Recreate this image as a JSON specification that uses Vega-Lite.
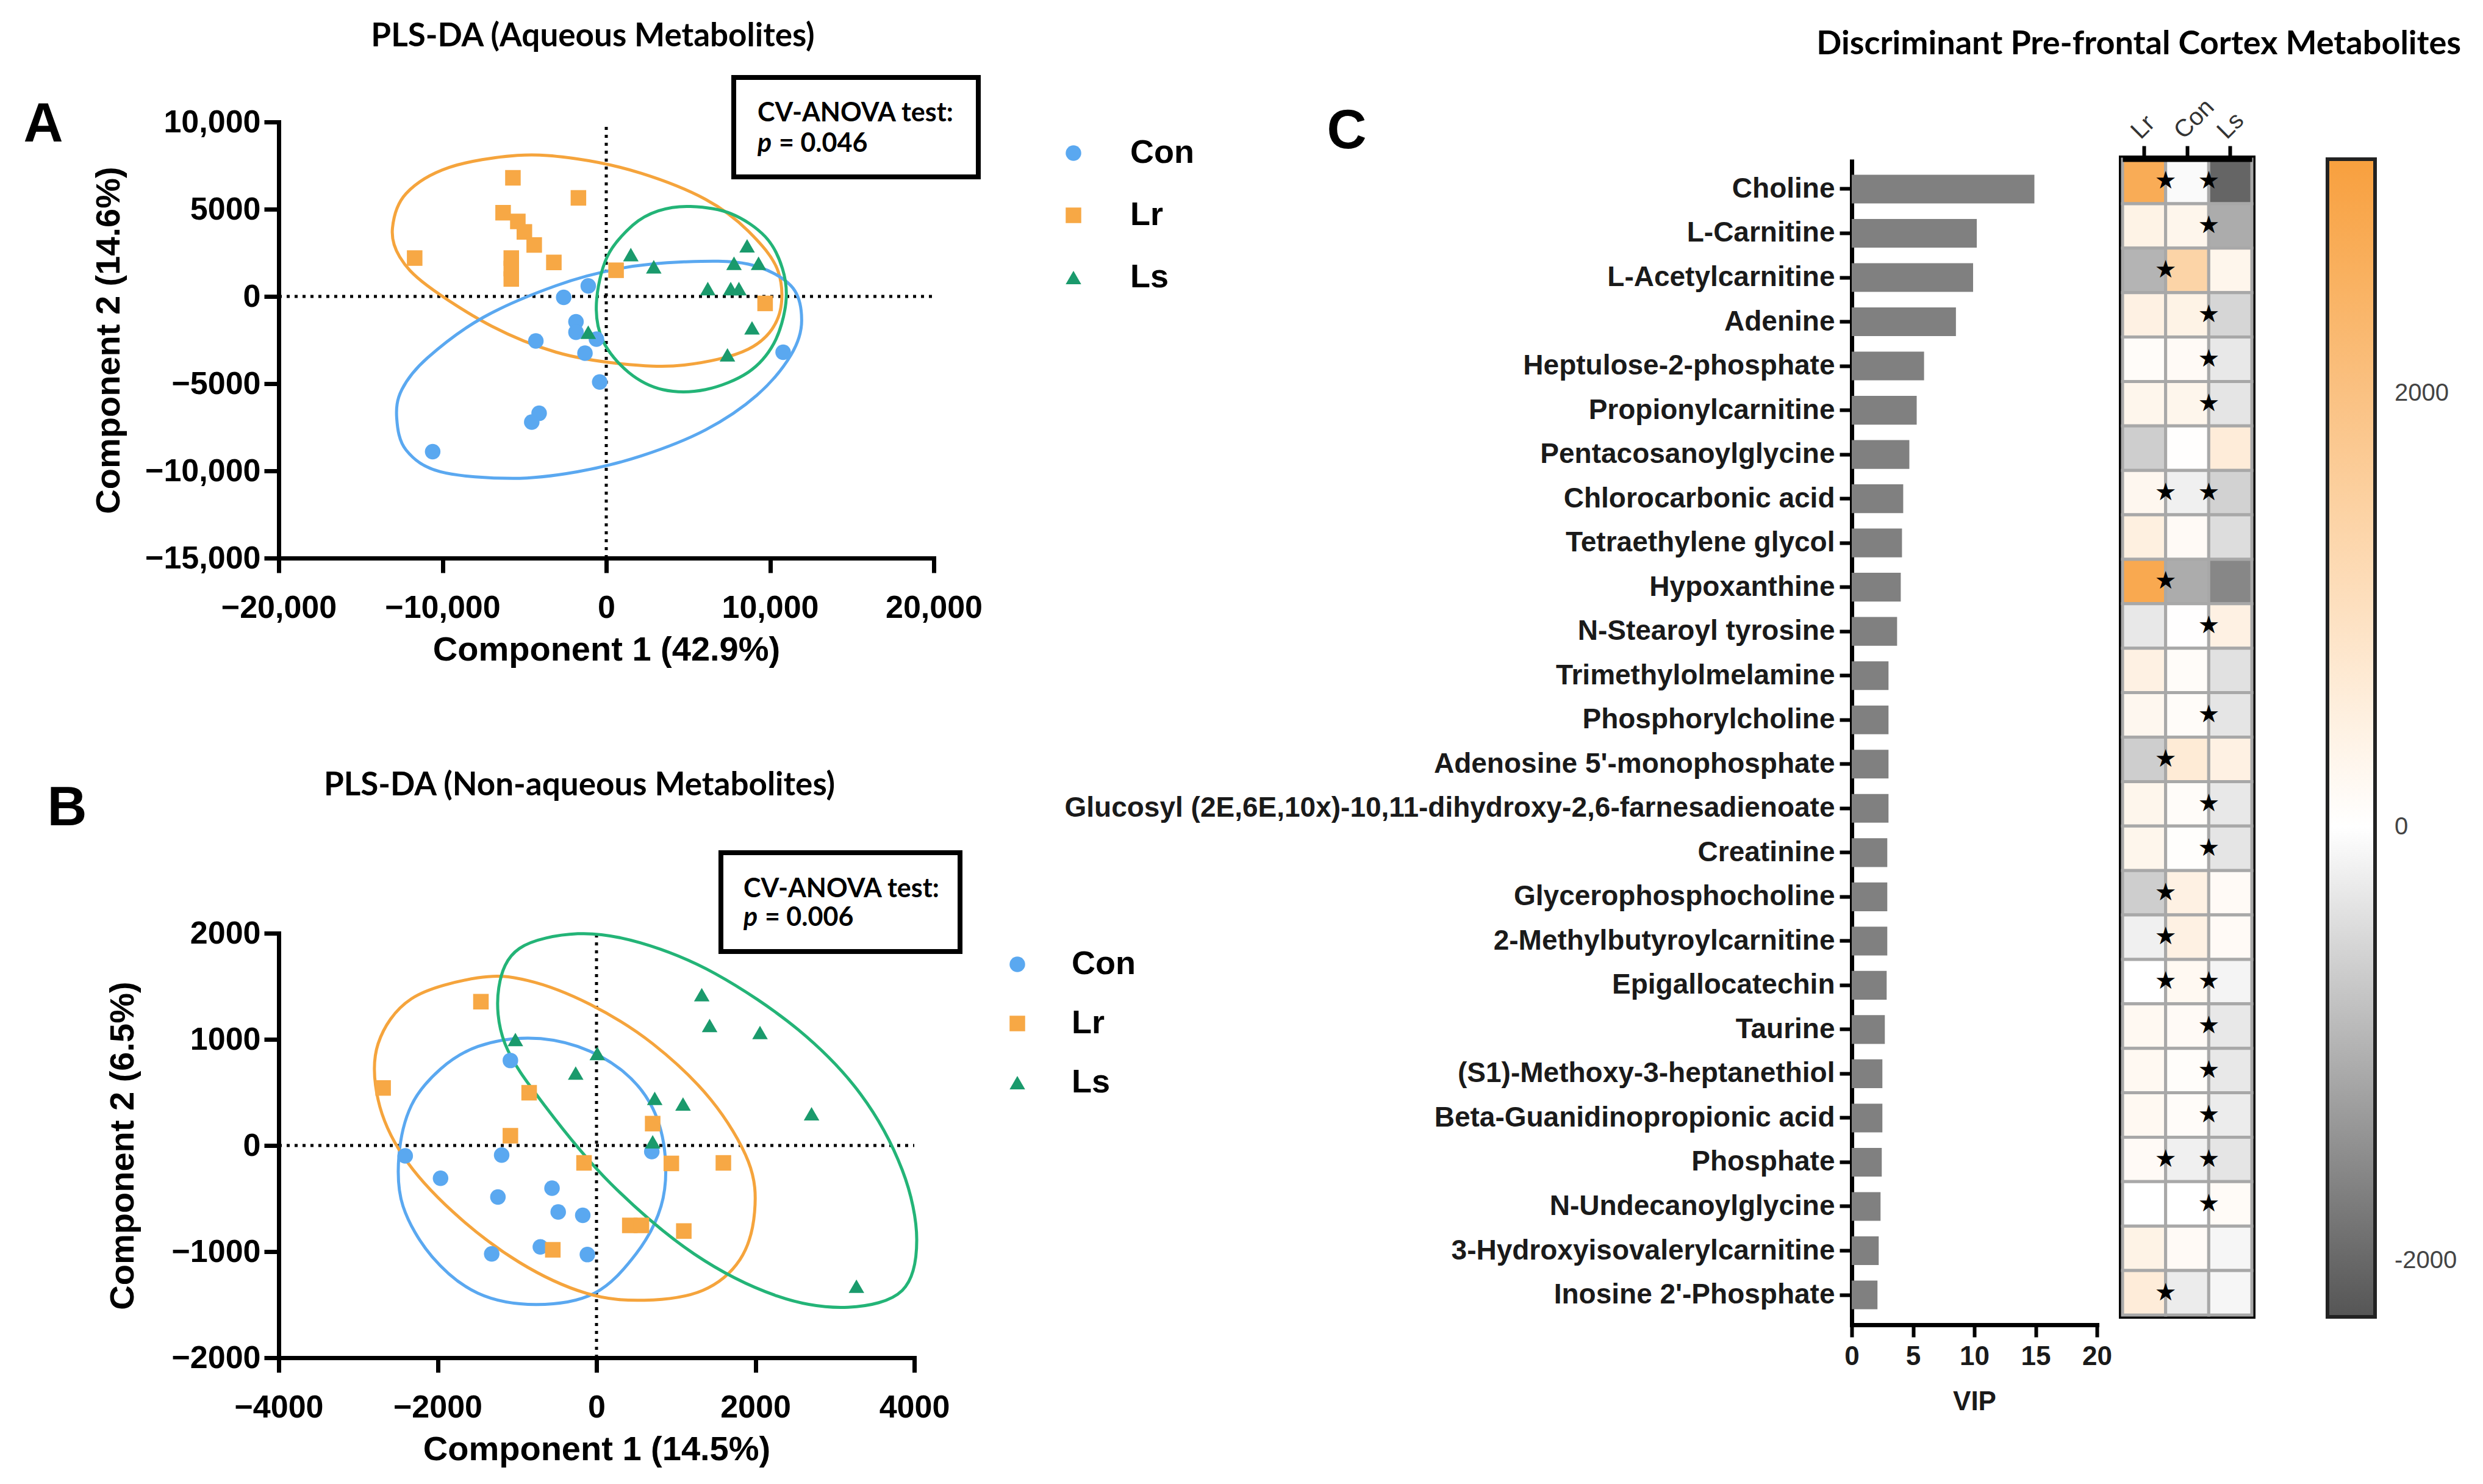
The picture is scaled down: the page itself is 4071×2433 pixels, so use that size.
{
  "$schema": "https://vega.github.io/schema/vega-lite/v6.json",
  "background": "white",
  "padding": {"left": 38, "top": 34, "right": 5, "bottom": 5},
  "config": {
    "view": {"stroke": null},
    "font": "Liberation Sans",
    "axis": {"grid": false, "domainColor": "black", "tickColor": "black", "labelColor": "black", "titleColor": "black", "labelFont": "Liberation Sans", "titleFont": "Liberation Sans", "labelLimit": 2000}
  },
  "datasets": {
    "one": [{"k": 1}],
    "ptsA": [
      {"g": "Con", "x": -1100, "y": 600}, {"g": "Con", "x": -2600, "y": -50}, {"g": "Con", "x": -1850, "y": -1450}, {"g": "Con", "x": -1850, "y": -2050},
      {"g": "Con", "x": -600, "y": -2450}, {"g": "Con", "x": -4300, "y": -2550}, {"g": "Con", "x": -1300, "y": -3250}, {"g": "Con", "x": -400, "y": -4900},
      {"g": "Con", "x": -4100, "y": -6700}, {"g": "Con", "x": -4550, "y": -7200}, {"g": "Con", "x": -10600, "y": -8900}, {"g": "Con", "x": 10800, "y": -3200},
      {"g": "Lr", "x": -11700, "y": 2200}, {"g": "Lr", "x": -6300, "y": 4800}, {"g": "Lr", "x": -5700, "y": 6800}, {"g": "Lr", "x": -5400, "y": 4300},
      {"g": "Lr", "x": -5000, "y": 3700}, {"g": "Lr", "x": -4400, "y": 2950}, {"g": "Lr", "x": -3200, "y": 1950}, {"g": "Lr", "x": -1700, "y": 5650},
      {"g": "Lr", "x": -5800, "y": 2200}, {"g": "Lr", "x": -5800, "y": 1600}, {"g": "Lr", "x": -5800, "y": 1000}, {"g": "Lr", "x": 600, "y": 1500},
      {"g": "Lr", "x": 9700, "y": -400},
      {"g": "Ls", "x": 1500, "y": 2400}, {"g": "Ls", "x": 2900, "y": 1700}, {"g": "Ls", "x": 8600, "y": 2900}, {"g": "Ls", "x": 7800, "y": 1900},
      {"g": "Ls", "x": 9300, "y": 1900}, {"g": "Ls", "x": 6200, "y": 450}, {"g": "Ls", "x": 7600, "y": 450}, {"g": "Ls", "x": 8100, "y": 450},
      {"g": "Ls", "x": 8900, "y": -1800}, {"g": "Ls", "x": 7400, "y": -3350}, {"g": "Ls", "x": -1100, "y": -2050}
    ],
    "ellA": [
      {"g": "Lr", "i": 0, "x": -13055, "y": 3917}, {"g": "Lr", "i": 1, "x": -12219, "y": 5901}, {"g": "Lr", "i": 2, "x": -9608, "y": 7388},
      {"g": "Lr", "i": 3, "x": -5431, "y": 8083}, {"g": "Lr", "i": 4, "x": -1775, "y": 7884}, {"g": "Lr", "i": 5, "x": 2141, "y": 7058},
      {"g": "Lr", "i": 6, "x": 6057, "y": 5570}, {"g": "Lr", "i": 7, "x": 8668, "y": 3752}, {"g": "Lr", "i": 8, "x": 10496, "y": 1438},
      {"g": "Lr", "i": 9, "x": 10496, "y": -1207}, {"g": "Lr", "i": 10, "x": 8668, "y": -3025}, {"g": "Lr", "i": 11, "x": 4752, "y": -3934},
      {"g": "Lr", "i": 12, "x": 836, "y": -3851}, {"g": "Lr", "i": 13, "x": -3081, "y": -3190}, {"g": "Lr", "i": 14, "x": -6997, "y": -1702},
      {"g": "Lr", "i": 15, "x": -10914, "y": 612}, {"g": "Lr", "i": 16, "x": -12611, "y": 2264},
      {"g": "Con", "i": 0, "x": -12794, "y": -6992}, {"g": "Con", "i": 1, "x": -12219, "y": -8810}, {"g": "Con", "i": 2, "x": -10131, "y": -10050},
      {"g": "Con", "i": 3, "x": -5692, "y": -10430}, {"g": "Con", "i": 4, "x": -1775, "y": -10050}, {"g": "Con", "i": 5, "x": 2141, "y": -9140},
      {"g": "Con", "i": 6, "x": 6057, "y": -7653}, {"g": "Con", "i": 7, "x": 9191, "y": -5669}, {"g": "Con", "i": 8, "x": 11279, "y": -3355},
      {"g": "Con", "i": 9, "x": 11932, "y": -1372}, {"g": "Con", "i": 10, "x": 11279, "y": 612}, {"g": "Con", "i": 11, "x": 8668, "y": 1851},
      {"g": "Con", "i": 12, "x": 4752, "y": 1983}, {"g": "Con", "i": 13, "x": 836, "y": 1603}, {"g": "Con", "i": 14, "x": -3081, "y": 612},
      {"g": "Con", "i": 15, "x": -7520, "y": -1207}, {"g": "Con", "i": 16, "x": -10914, "y": -3521}, {"g": "Con", "i": 17, "x": -12480, "y": -5339},
      {"g": "Ls", "i": 0, "x": 5144, "y": 5157}, {"g": "Ls", "i": 1, "x": 7624, "y": 4744}, {"g": "Ls", "i": 2, "x": 9713, "y": 3421},
      {"g": "Ls", "i": 3, "x": 10757, "y": 1603}, {"g": "Ls", "i": 4, "x": 10966, "y": -380}, {"g": "Ls", "i": 5, "x": 10235, "y": -2694},
      {"g": "Ls", "i": 6, "x": 8668, "y": -4347}, {"g": "Ls", "i": 7, "x": 6057, "y": -5339}, {"g": "Ls", "i": 8, "x": 3446, "y": -5339},
      {"g": "Ls", "i": 9, "x": 1358, "y": -4347}, {"g": "Ls", "i": 10, "x": -209, "y": -2529}, {"g": "Ls", "i": 11, "x": -601, "y": -380},
      {"g": "Ls", "i": 12, "x": 52, "y": 2264}, {"g": "Ls", "i": 13, "x": 1619, "y": 4083}, {"g": "Ls", "i": 14, "x": 3185, "y": 4909}
    ],
    "ptsB": [
      {"g": "Con", "x": -1084, "y": 801}, {"g": "Con", "x": -2408, "y": -98}, {"g": "Con", "x": -1194, "y": -90}, {"g": "Con", "x": 696, "y": -58},
      {"g": "Con", "x": -1963, "y": -309}, {"g": "Con", "x": -560, "y": -402}, {"g": "Con", "x": -1241, "y": -486}, {"g": "Con", "x": -482, "y": -626},
      {"g": "Con", "x": -173, "y": -658}, {"g": "Con", "x": -1319, "y": -1022}, {"g": "Con", "x": -707, "y": -956}, {"g": "Con", "x": -115, "y": -1028},
      {"g": "Lr", "x": -1455, "y": 1355}, {"g": "Lr", "x": -2686, "y": 542}, {"g": "Lr", "x": -848, "y": 497}, {"g": "Lr", "x": -1084, "y": 92},
      {"g": "Lr", "x": 707, "y": 206}, {"g": "Lr", "x": -157, "y": -164}, {"g": "Lr", "x": 942, "y": -169}, {"g": "Lr", "x": 1597, "y": -164},
      {"g": "Lr", "x": 419, "y": -753}, {"g": "Lr", "x": 565, "y": -753}, {"g": "Lr", "x": 1099, "y": -806}, {"g": "Lr", "x": -550, "y": -983},
      {"g": "Ls", "x": 1325, "y": 1421}, {"g": "Ls", "x": 1424, "y": 1131}, {"g": "Ls", "x": 2058, "y": 1065}, {"g": "Ls", "x": -1021, "y": 999},
      {"g": "Ls", "x": 10, "y": 867}, {"g": "Ls", "x": -262, "y": 682}, {"g": "Ls", "x": 733, "y": 444}, {"g": "Ls", "x": 1089, "y": 391},
      {"g": "Ls", "x": 2707, "y": 299}, {"g": "Ls", "x": 707, "y": 34}, {"g": "Ls", "x": 3272, "y": -1326}
    ],
    "ellB": [
      {"g": "Con", "i": 0, "x": -864, "y": 1012}, {"g": "Con", "i": 1, "x": -236, "y": 933}, {"g": "Con", "i": 2, "x": 340, "y": 695},
      {"g": "Con", "i": 3, "x": 707, "y": 351}, {"g": "Con", "i": 4, "x": 864, "y": -98}, {"g": "Con", "i": 5, "x": 812, "y": -573},
      {"g": "Con", "i": 6, "x": 497, "y": -1022}, {"g": "Con", "i": 7, "x": -26, "y": -1392}, {"g": "Con", "i": 8, "x": -759, "y": -1498},
      {"g": "Con", "i": 9, "x": -1492, "y": -1392}, {"g": "Con", "i": 10, "x": -2068, "y": -1049}, {"g": "Con", "i": 11, "x": -2435, "y": -573},
      {"g": "Con", "i": 12, "x": -2487, "y": -98}, {"g": "Con", "i": 13, "x": -2330, "y": 378}, {"g": "Con", "i": 14, "x": -1963, "y": 721},
      {"g": "Con", "i": 15, "x": -1492, "y": 933},
      {"g": "Lr", "i": 0, "x": -1492, "y": 1580}, {"g": "Lr", "i": 1, "x": -864, "y": 1554}, {"g": "Lr", "i": 2, "x": -79, "y": 1329},
      {"g": "Lr", "i": 3, "x": 707, "y": 959}, {"g": "Lr", "i": 4, "x": 1440, "y": 431}, {"g": "Lr", "i": 5, "x": 1911, "y": -151},
      {"g": "Lr", "i": 6, "x": 1990, "y": -626}, {"g": "Lr", "i": 7, "x": 1806, "y": -1075}, {"g": "Lr", "i": 8, "x": 1335, "y": -1366},
      {"g": "Lr", "i": 9, "x": 602, "y": -1458}, {"g": "Lr", "i": 10, "x": -131, "y": -1392}, {"g": "Lr", "i": 11, "x": -969, "y": -1102},
      {"g": "Lr", "i": 12, "x": -1806, "y": -626}, {"g": "Lr", "i": 13, "x": -2435, "y": -98}, {"g": "Lr", "i": 14, "x": -2749, "y": 431},
      {"g": "Lr", "i": 15, "x": -2749, "y": 959}, {"g": "Lr", "i": 16, "x": -2330, "y": 1382},
      {"g": "Ls", "i": 0, "x": -236, "y": 1995}, {"g": "Ls", "i": 1, "x": 550, "y": 1910}, {"g": "Ls", "i": 2, "x": 1492, "y": 1620},
      {"g": "Ls", "i": 3, "x": 2539, "y": 1091}, {"g": "Ls", "i": 4, "x": 3325, "y": 483}, {"g": "Ls", "i": 5, "x": 3848, "y": -230},
      {"g": "Ls", "i": 6, "x": 4031, "y": -890}, {"g": "Ls", "i": 7, "x": 3848, "y": -1366}, {"g": "Ls", "i": 8, "x": 3168, "y": -1524},
      {"g": "Ls", "i": 9, "x": 2277, "y": -1419}, {"g": "Ls", "i": 10, "x": 1230, "y": -1022}, {"g": "Ls", "i": 11, "x": 183, "y": -362},
      {"g": "Ls", "i": 12, "x": -654, "y": 378}, {"g": "Ls", "i": 13, "x": -1152, "y": 959}, {"g": "Ls", "i": 14, "x": -1230, "y": 1487},
      {"g": "Ls", "i": 15, "x": -969, "y": 1857}
    ],
    "bars": [
      {"m": "Choline", "vip": 14.9}, {"m": "L-Carnitine", "vip": 10.2}, {"m": "L-Acetylcarnitine", "vip": 9.9}, {"m": "Adenine", "vip": 8.5},
      {"m": "Heptulose-2-phosphate", "vip": 5.9}, {"m": "Propionylcarnitine", "vip": 5.3}, {"m": "Pentacosanoylglycine", "vip": 4.7},
      {"m": "Chlorocarbonic acid", "vip": 4.2}, {"m": "Tetraethylene glycol", "vip": 4.1}, {"m": "Hypoxanthine", "vip": 4.0},
      {"m": "N-Stearoyl tyrosine", "vip": 3.7}, {"m": "Trimethylolmelamine", "vip": 3.0}, {"m": "Phosphorylcholine", "vip": 3.0},
      {"m": "Adenosine 5'-monophosphate", "vip": 3.0}, {"m": "Glucosyl (2E,6E,10x)-10,11-dihydroxy-2,6-farnesadienoate", "vip": 3.0},
      {"m": "Creatinine", "vip": 2.9}, {"m": "Glycerophosphocholine", "vip": 2.9}, {"m": "2-Methylbutyroylcarnitine", "vip": 2.9},
      {"m": "Epigallocatechin", "vip": 2.85}, {"m": "Taurine", "vip": 2.7}, {"m": "(S1)-Methoxy-3-heptanethiol", "vip": 2.5},
      {"m": "Beta-Guanidinopropionic acid", "vip": 2.5}, {"m": "Phosphate", "vip": 2.45}, {"m": "N-Undecanoylglycine", "vip": 2.35},
      {"m": "3-Hydroxyisovalerylcarnitine", "vip": 2.2}, {"m": "Inosine 2'-Phosphate", "vip": 2.1}
    ],
    "heat": [
      {"m": "Choline", "col": "Lr", "v": 2700, "star": true}, {"m": "Choline", "col": "Con", "v": -60, "star": true}, {"m": "Choline", "col": "Ls", "v": -2050, "star": false},
      {"m": "L-Carnitine", "col": "Lr", "v": 400, "star": false}, {"m": "L-Carnitine", "col": "Con", "v": 300, "star": true}, {"m": "L-Carnitine", "col": "Ls", "v": -1100, "star": false},
      {"m": "L-Acetylcarnitine", "col": "Lr", "v": -1000, "star": true}, {"m": "L-Acetylcarnitine", "col": "Con", "v": 1400, "star": false}, {"m": "L-Acetylcarnitine", "col": "Ls", "v": 300, "star": false},
      {"m": "Adenine", "col": "Lr", "v": 450, "star": false}, {"m": "Adenine", "col": "Con", "v": 400, "star": true}, {"m": "Adenine", "col": "Ls", "v": -550, "star": false},
      {"m": "Heptulose-2-phosphate", "col": "Lr", "v": 100, "star": false}, {"m": "Heptulose-2-phosphate", "col": "Con", "v": 150, "star": true}, {"m": "Heptulose-2-phosphate", "col": "Ls", "v": -300, "star": false},
      {"m": "Propionylcarnitine", "col": "Lr", "v": 300, "star": false}, {"m": "Propionylcarnitine", "col": "Con", "v": 300, "star": true}, {"m": "Propionylcarnitine", "col": "Ls", "v": -350, "star": false},
      {"m": "Pentacosanoylglycine", "col": "Lr", "v": -650, "star": false}, {"m": "Pentacosanoylglycine", "col": "Con", "v": 30, "star": false}, {"m": "Pentacosanoylglycine", "col": "Ls", "v": 600, "star": false},
      {"m": "Chlorocarbonic acid", "col": "Lr", "v": 250, "star": true}, {"m": "Chlorocarbonic acid", "col": "Con", "v": -200, "star": true}, {"m": "Chlorocarbonic acid", "col": "Ls", "v": -600, "star": false},
      {"m": "Tetraethylene glycol", "col": "Lr", "v": 500, "star": false}, {"m": "Tetraethylene glycol", "col": "Con", "v": 150, "star": false}, {"m": "Tetraethylene glycol", "col": "Ls", "v": -450, "star": false},
      {"m": "Hypoxanthine", "col": "Lr", "v": 2800, "star": true}, {"m": "Hypoxanthine", "col": "Con", "v": -1100, "star": false}, {"m": "Hypoxanthine", "col": "Ls", "v": -1600, "star": false},
      {"m": "N-Stearoyl tyrosine", "col": "Lr", "v": -300, "star": false}, {"m": "N-Stearoyl tyrosine", "col": "Con", "v": 20, "star": true}, {"m": "N-Stearoyl tyrosine", "col": "Ls", "v": 450, "star": false},
      {"m": "Trimethylolmelamine", "col": "Lr", "v": 450, "star": false}, {"m": "Trimethylolmelamine", "col": "Con", "v": 100, "star": false}, {"m": "Trimethylolmelamine", "col": "Ls", "v": -400, "star": false},
      {"m": "Phosphorylcholine", "col": "Lr", "v": 250, "star": false}, {"m": "Phosphorylcholine", "col": "Con", "v": 100, "star": true}, {"m": "Phosphorylcholine", "col": "Ls", "v": -350, "star": false},
      {"m": "Adenosine 5'-monophosphate", "col": "Lr", "v": -650, "star": true}, {"m": "Adenosine 5'-monophosphate", "col": "Con", "v": 650, "star": false}, {"m": "Adenosine 5'-monophosphate", "col": "Ls", "v": 450, "star": false},
      {"m": "Glucosyl (2E,6E,10x)-10,11-dihydroxy-2,6-farnesadienoate", "col": "Lr", "v": 300, "star": false}, {"m": "Glucosyl (2E,6E,10x)-10,11-dihydroxy-2,6-farnesadienoate", "col": "Con", "v": 100, "star": true}, {"m": "Glucosyl (2E,6E,10x)-10,11-dihydroxy-2,6-farnesadienoate", "col": "Ls", "v": -300, "star": false},
      {"m": "Creatinine", "col": "Lr", "v": 300, "star": false}, {"m": "Creatinine", "col": "Con", "v": 40, "star": true}, {"m": "Creatinine", "col": "Ls", "v": -350, "star": false},
      {"m": "Glycerophosphocholine", "col": "Lr", "v": -650, "star": true}, {"m": "Glycerophosphocholine", "col": "Con", "v": 450, "star": false}, {"m": "Glycerophosphocholine", "col": "Ls", "v": 150, "star": false},
      {"m": "2-Methylbutyroylcarnitine", "col": "Lr", "v": -200, "star": true}, {"m": "2-Methylbutyroylcarnitine", "col": "Con", "v": 450, "star": false}, {"m": "2-Methylbutyroylcarnitine", "col": "Ls", "v": 150, "star": false},
      {"m": "Epigallocatechin", "col": "Lr", "v": 0, "star": true}, {"m": "Epigallocatechin", "col": "Con", "v": 200, "star": true}, {"m": "Epigallocatechin", "col": "Ls", "v": -150, "star": false},
      {"m": "Taurine", "col": "Lr", "v": 200, "star": false}, {"m": "Taurine", "col": "Con", "v": 150, "star": true}, {"m": "Taurine", "col": "Ls", "v": -300, "star": false},
      {"m": "(S1)-Methoxy-3-heptanethiol", "col": "Lr", "v": 200, "star": false}, {"m": "(S1)-Methoxy-3-heptanethiol", "col": "Con", "v": 80, "star": true}, {"m": "(S1)-Methoxy-3-heptanethiol", "col": "Ls", "v": -300, "star": false},
      {"m": "Beta-Guanidinopropionic acid", "col": "Lr", "v": 200, "star": false}, {"m": "Beta-Guanidinopropionic acid", "col": "Con", "v": 100, "star": true}, {"m": "Beta-Guanidinopropionic acid", "col": "Ls", "v": -250, "star": false},
      {"m": "Phosphate", "col": "Lr", "v": 150, "star": true}, {"m": "Phosphate", "col": "Con", "v": -200, "star": true}, {"m": "Phosphate", "col": "Ls", "v": -350, "star": false},
      {"m": "N-Undecanoylglycine", "col": "Lr", "v": 0, "star": false}, {"m": "N-Undecanoylglycine", "col": "Con", "v": 0, "star": true}, {"m": "N-Undecanoylglycine", "col": "Ls", "v": 120, "star": false},
      {"m": "3-Hydroxyisovalerylcarnitine", "col": "Lr", "v": 400, "star": false}, {"m": "3-Hydroxyisovalerylcarnitine", "col": "Con", "v": 150, "star": false}, {"m": "3-Hydroxyisovalerylcarnitine", "col": "Ls", "v": -120, "star": false},
      {"m": "Inosine 2'-Phosphate", "col": "Lr", "v": 600, "star": true}, {"m": "Inosine 2'-Phosphate", "col": "Con", "v": -250, "star": false}, {"m": "Inosine 2'-Phosphate", "col": "Ls", "v": -120, "star": false}
    ]
  },
  "columns": 2,
  "align": "none",
  "spacing": -213,
  "resolve": {"scale": {"color": "independent", "shape": "independent", "stroke": "independent", "fill": "independent"}, "legend": {"color": "independent", "shape": "independent", "fill": "independent"}},
  "concat": [
    {
      "columns": 1,
      "align": "none",
      "spacing": 169,
      "resolve": {"scale": {"color": "independent", "shape": "independent", "stroke": "independent"}, "legend": {"color": "independent", "shape": "independent"}},
      "concat": [
        {
          "width": 1074, "height": 715,
          "title": {"text": "PLS-DA (Aqueous Metabolites)", "font": "Lato", "fontSize": 53, "fontWeight": "bold", "color": "black", "anchor": "middle", "frame": "group", "dx": -22, "offset": 36},
          "layer": [
            {"data": {"name": "one"}, "mark": {"type": "rule", "strokeDash": [5, 8], "strokeWidth": 5, "color": "black"}, "encoding": {"x": {"datum": 0, "type": "quantitative", "scale": {"domain": [-20000, 20000], "nice": false, "zero": false}}, "y": {"datum": -15000, "type": "quantitative", "scale": {"domain": [-15000, 10000], "nice": false, "zero": false}}, "y2": {"datum": 10000}}},
            {"data": {"name": "one"}, "mark": {"type": "rule", "strokeDash": [5, 8], "strokeWidth": 5, "color": "black"}, "encoding": {"y": {"datum": 0, "type": "quantitative"}, "x": {"datum": -20000, "type": "quantitative"}, "x2": {"datum": 20000}}},
            {"data": {"name": "ellA"}, "mark": {"type": "line", "interpolate": "cardinal-closed", "strokeWidth": 5},
              "encoding": {
                "x": {"field": "x", "type": "quantitative", "title": "Component 1 (42.9%)"},
                "y": {"field": "y", "type": "quantitative", "title": "Component 2 (14.6%)"},
                "stroke": {"field": "g", "type": "nominal", "scale": {"domain": ["Ls", "Lr", "Con"], "range": ["#23B477", "#F5A43C", "#5AA8F0"]}, "legend": null}, "order": {"field": "i", "type": "quantitative"}}},
            {"data": {"name": "ptsA"}, "mark": {"type": "point", "filled": true, "size": 650, "opacity": 1},
              "encoding": {
                "x": {"field": "x", "type": "quantitative", "title": "Component 1 (42.9%)",
                  "axis": {"values": [-20000, -10000, 0, 10000, 20000], "labelExpr": "abs(datum.value) >= 10000 ? format(datum.value, ',') : format(datum.value, 'd')", "labelFontSize": 52, "labelFontWeight": "bold", "titleFontSize": 56, "titleFontWeight": "bold", "domainWidth": 7, "tickWidth": 7, "tickSize": 24, "labelPadding": 32, "titlePadding": 16, "labelFlush": false, "labelOverlap": false, "domainCap": "square"}},
                "y": {"field": "y", "type": "quantitative", "title": "Component 2 (14.6%)",
                  "axis": {"values": [-15000, -10000, -5000, 0, 5000, 10000], "labelExpr": "abs(datum.value) >= 10000 ? format(datum.value, ',') : format(datum.value, 'd')", "labelFontSize": 52, "labelFontWeight": "bold", "titleFontSize": 56, "titleFontWeight": "bold", "domainWidth": 7, "tickWidth": 7, "tickSize": 24, "labelPadding": 6, "titlePadding": 50, "labelFlush": false, "labelOverlap": false, "domainCap": "square"}},
                "color": {"field": "g", "type": "nominal", "scale": {"domain": ["Con", "Lr", "Ls"], "range": ["#5AA8F0", "#F7A845", "#1A9A6C"]},
                  "legend": {"orient": "none", "legendX": 1276, "legendY": 24, "title": null, "labelFontSize": 54, "labelFontWeight": "bold", "labelFont": "Liberation Sans", "labelColor": "black", "symbolSize": 650, "rowPadding": 48, "labelOffset": 66}},
                "shape": {"field": "g", "type": "nominal", "scale": {"domain": ["Con", "Lr", "Ls"], "range": ["circle", "square", "triangle-up"]},
                  "legend": {"orient": "none", "legendX": 1276, "legendY": 24, "title": null, "labelFontSize": 54, "labelFontWeight": "bold", "labelFont": "Liberation Sans", "labelColor": "black", "symbolSize": 650, "rowPadding": 48, "labelOffset": 66}}
              }},
            {"data": {"name": "one"}, "mark": {"type": "rect", "fill": "white", "stroke": "black", "strokeWidth": 8}, "encoding": {"x": {"datum": 7784, "type": "quantitative"}, "x2": {"datum": 22718}, "y": {"datum": 12552, "type": "quantitative"}, "y2": {"datum": 6853}}},
            {"data": {"name": "one"}, "mark": {"type": "text", "font": "Lato", "fontSize": 43, "fontWeight": "bold", "align": "left", "baseline": "middle", "color": "black"}, "encoding": {"text": {"value": "CV-ANOVA test:"}, "x": {"datum": 9236, "type": "quantitative"}, "y": {"datum": 10490, "type": "quantitative"}}},
            {"data": {"name": "one"}, "mark": {"type": "text", "font": "Lato", "fontSize": 43, "fontWeight": "bold", "fontStyle": "italic", "align": "left", "baseline": "middle", "color": "black"}, "encoding": {"text": {"value": "p"}, "x": {"datum": 9236, "type": "quantitative"}, "y": {"datum": 8741, "type": "quantitative"}}},
            {"data": {"name": "one"}, "mark": {"type": "text", "font": "Lato", "fontSize": 43, "fontWeight": "bold", "align": "left", "baseline": "middle", "color": "black", "dx": 35}, "encoding": {"text": {"value": "= 0.046"}, "x": {"datum": 9236, "type": "quantitative"}, "y": {"datum": 8741, "type": "quantitative"}}},
            {"data": {"name": "one"}, "mark": {"type": "text", "font": "Liberation Sans", "fontSize": 90, "fontWeight": "bold", "align": "center", "baseline": "middle", "color": "black"}, "encoding": {"text": {"value": "A"}, "x": {"datum": -34376, "type": "quantitative"}, "y": {"datum": 9825, "type": "quantitative"}}}
          ]
        },
        {
          "width": 1042, "height": 696,
          "title": {"text": "PLS-DA (Non-aqueous Metabolites)", "font": "Lato", "fontSize": 53, "fontWeight": "bold", "color": "black", "anchor": "middle", "frame": "group", "dx": -28, "offset": -34},
          "layer": [
            {"data": {"name": "one"}, "mark": {"type": "rule", "strokeDash": [5, 8], "strokeWidth": 5, "color": "black"}, "encoding": {"x": {"datum": 0, "type": "quantitative", "scale": {"domain": [-4000, 4000], "nice": false, "zero": false}}, "y": {"datum": -2000, "type": "quantitative", "scale": {"domain": [-2000, 2000], "nice": false, "zero": false}}, "y2": {"datum": 2000}}},
            {"data": {"name": "one"}, "mark": {"type": "rule", "strokeDash": [5, 8], "strokeWidth": 5, "color": "black"}, "encoding": {"y": {"datum": 0, "type": "quantitative"}, "x": {"datum": -4000, "type": "quantitative"}, "x2": {"datum": 4000}}},
            {"data": {"name": "ellB"}, "mark": {"type": "line", "interpolate": "cardinal-closed", "strokeWidth": 5},
              "encoding": {
                "x": {"field": "x", "type": "quantitative", "title": "Component 1 (14.5%)"},
                "y": {"field": "y", "type": "quantitative", "title": "Component 2 (6.5%)"},
                "stroke": {"field": "g", "type": "nominal", "scale": {"domain": ["Ls", "Lr", "Con"], "range": ["#23B477", "#F5A43C", "#5AA8F0"]}, "legend": null}, "order": {"field": "i", "type": "quantitative"}}},
            {"data": {"name": "ptsB"}, "mark": {"type": "point", "filled": true, "size": 650, "opacity": 1},
              "encoding": {
                "x": {"field": "x", "type": "quantitative", "title": "Component 1 (14.5%)",
                  "axis": {"values": [-4000, -2000, 0, 2000, 4000], "format": "d", "labelFontSize": 52, "labelFontWeight": "bold", "titleFontSize": 56, "titleFontWeight": "bold", "domainWidth": 7, "tickWidth": 7, "tickSize": 24, "labelPadding": 32, "titlePadding": 16, "labelFlush": false, "labelOverlap": false, "domainCap": "square"}},
                "y": {"field": "y", "type": "quantitative", "title": "Component 2 (6.5%)",
                  "axis": {"values": [-2000, -1000, 0, 1000, 2000], "format": "d", "labelFontSize": 52, "labelFontWeight": "bold", "titleFontSize": 56, "titleFontWeight": "bold", "domainWidth": 7, "tickWidth": 7, "tickSize": 24, "labelPadding": 6, "titlePadding": 50, "labelFlush": false, "labelOverlap": false, "domainCap": "square"}},
                "color": {"field": "g", "type": "nominal", "scale": {"domain": ["Con", "Lr", "Ls"], "range": ["#5AA8F0", "#F7A845", "#1A9A6C"]},
                  "legend": {"orient": "none", "legendX": 1184, "legendY": 24, "title": null, "labelFontSize": 54, "labelFontWeight": "bold", "labelFont": "Liberation Sans", "labelColor": "black", "symbolSize": 650, "rowPadding": 43, "labelOffset": 62}},
                "shape": {"field": "g", "type": "nominal", "scale": {"domain": ["Con", "Lr", "Ls"], "range": ["circle", "square", "triangle-up"]},
                  "legend": {"orient": "none", "legendX": 1184, "legendY": 24, "title": null, "labelFontSize": 54, "labelFontWeight": "bold", "labelFont": "Liberation Sans", "labelColor": "black", "symbolSize": 650, "rowPadding": 43, "labelOffset": 62}}
              }},
            {"data": {"name": "one"}, "mark": {"type": "rect", "fill": "white", "stroke": "black", "strokeWidth": 8}, "encoding": {"x": {"datum": 1566, "type": "quantitative"}, "x2": {"datum": 4576}, "y": {"datum": 2759, "type": "quantitative"}, "y2": {"datum": 1828}}},
            {"data": {"name": "one"}, "mark": {"type": "text", "font": "Lato", "fontSize": 43, "fontWeight": "bold", "align": "left", "baseline": "middle", "color": "black"}, "encoding": {"text": {"value": "CV-ANOVA test:"}, "x": {"datum": 1850, "type": "quantitative"}, "y": {"datum": 2414, "type": "quantitative"}}},
            {"data": {"name": "one"}, "mark": {"type": "text", "font": "Lato", "fontSize": 43, "fontWeight": "bold", "fontStyle": "italic", "align": "left", "baseline": "middle", "color": "black"}, "encoding": {"text": {"value": "p"}, "x": {"datum": 1850, "type": "quantitative"}, "y": {"datum": 2144, "type": "quantitative"}}},
            {"data": {"name": "one"}, "mark": {"type": "text", "font": "Lato", "fontSize": 43, "fontWeight": "bold", "align": "left", "baseline": "middle", "color": "black", "dx": 35}, "encoding": {"text": {"value": "= 0.006"}, "x": {"datum": 1850, "type": "quantitative"}, "y": {"datum": 2144, "type": "quantitative"}}},
            {"data": {"name": "one"}, "mark": {"type": "text", "font": "Liberation Sans", "fontSize": 90, "fontWeight": "bold", "align": "center", "baseline": "middle", "color": "black"}, "encoding": {"text": {"value": "B"}, "x": {"datum": -6664, "type": "quantitative"}, "y": {"datum": 3172, "type": "quantitative"}}}
          ]
        }
      ]
    },
    {
      "title": {"text": "Discriminant Pre-frontal Cortex Metabolites", "font": "Lato", "fontSize": 54, "fontWeight": "bold", "color": "black", "anchor": "end", "frame": "bounds", "offset": 49},
      "spacing": -53,
      "resolve": {"scale": {"fill": "independent"}, "legend": {"fill": "independent"}},
      "vconcat": [
        {"width": 1, "height": 1, "data": {"values": []}, "mark": {"type": "point", "opacity": 0}},
        {
          "spacing": 42,
          "bounds": "flush",
          "resolve": {"scale": {"fill": "independent"}, "legend": {"fill": "independent"}},
          "hconcat": [
            {
              "width": 402, "height": 1911,
              "layer": [
                {"data": {"name": "bars"}, "mark": {"type": "bar", "color": "#808080"},
                  "encoding": {
                    "y": {"field": "m", "type": "nominal", "sort": null, "title": null, "scale": {"paddingInner": 0.35, "paddingOuter": 0.35},
                      "axis": {"labelFontSize": 46, "labelFontWeight": "bold", "labelFont": "Liberation Sans", "labelColor": "#1a1a1a", "labelLimit": 3000, "domainWidth": 7, "tickWidth": 6, "tickSize": 20, "labelPadding": 8}},
                    "x": {"field": "vip", "type": "quantitative", "title": "VIP", "scale": {"domain": [0, 20], "nice": false},
                      "axis": {"values": [0, 5, 10, 15, 20], "labelFontSize": 44, "labelFontWeight": "bold", "labelColor": "#1a1a1a", "titleFontSize": 44, "titleFontWeight": "bold", "titleColor": "#1a1a1a", "domainWidth": 7, "tickWidth": 6, "tickSize": 20, "labelPadding": 10, "titlePadding": 30, "labelFlush": false, "domainCap": "square"}}
                  }},
                {"data": {"name": "bars"}, "transform": [{"filter": "datum.m == 'Choline'"}], "mark": {"type": "text", "font": "Liberation Sans", "fontSize": 90, "fontWeight": "bold", "align": "center", "baseline": "middle", "color": "black", "dy": -94},
                  "encoding": {"text": {"value": "C"}, "x": {"datum": -41.2, "type": "quantitative"}, "y": {"field": "m", "type": "nominal", "sort": null}}}
              ]
            },
            {
              "width": 212, "height": 1895,
              "view": {"stroke": "black", "strokeWidth": 12},
              "data": {"name": "heat"},
              "encoding": {
                "x": {"field": "col", "type": "nominal", "sort": ["Lr", "Con", "Ls"], "title": null, "scale": {"padding": 0},
                  "axis": {"orient": "top", "labelAngle": -45, "labelFontSize": 40, "labelFont": "Liberation Sans", "labelColor": "#333333", "domainWidth": 8, "tickWidth": 6, "tickSize": 22, "labelPadding": 4}},
                "y": {"field": "m", "type": "nominal", "sort": null, "title": null, "scale": {"padding": 0}, "axis": null}
              },
              "layer": [
                {"mark": {"type": "rect", "stroke": "#a8a8a8", "strokeWidth": 5},
                  "encoding": {"fill": {"field": "v", "type": "quantitative",
                    "scale": {"domain": [-2259, 0, 3080], "range": ["#555555", "#ffffff", "#f8a03e"], "interpolate": "rgb", "clamp": true, "nice": false, "zero": false},
                    "legend": {"orient": "right", "offset": 124, "title": null, "direction": "vertical", "gradientLength": 1898, "gradientThickness": 78, "values": [-2000, 0, 2000],
                      "labelExpr": "datum.value < 0 ? '-' + format(abs(datum.value), 'd') : format(datum.value, 'd')", "labelFontSize": 40, "labelFont": "Liberation Sans", "labelColor": "#444444", "labelOffset": 32, "gradientStrokeColor": "#222222", "gradientStrokeWidth": 6}}}},
                {"mark": {"type": "text", "font": "DejaVu Sans", "fontSize": 40, "color": "black", "baseline": "middle", "align": "center"},
                  "encoding": {"x": {"field": "col", "type": "nominal", "sort": ["Lr", "Con", "Ls"], "bandPosition": 1},
                    "text": {"condition": {"test": "datum.star", "value": "★"}, "value": ""}}}
              ]
            }
          ]
        }
      ]
    }
  ]
}
